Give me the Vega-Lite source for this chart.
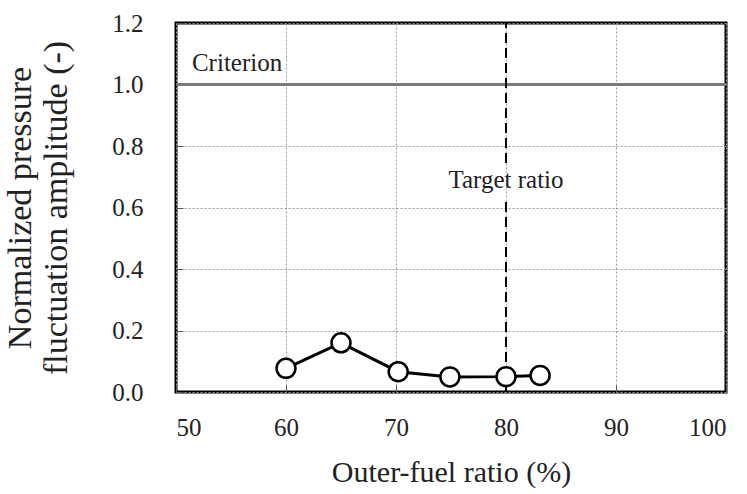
{
  "$schema": "https://vega.github.io/schema/vega-lite/v6.json",
  "width": 550,
  "height": 369,
  "autosize": {"type": "none"},
  "padding": {"left": 176, "top": 23, "right": 21, "bottom": 102},
  "background": "white",
  "config": {
    "font": "Liberation Serif",
    "view": {"stroke": "black", "strokeWidth": 3},
    "axis": {
      "labelFont": "Liberation Serif",
      "titleFont": "Liberation Serif",
      "labelColor": "#222",
      "titleColor": "#222",
      "titleFontWeight": "normal",
      "domain": false,
      "grid": true,
      "gridColor": "#9a9a9a",
      "gridDash": [2, 2],
      "gridWidth": 1,
      "ticks": true,
      "tickColor": "#555",
      "tickSize": -7,
      "tickWidth": 1
    }
  },
  "datasets": {
    "pts": [
      {"ratio": 60.0, "amp": 0.077},
      {"ratio": 65.0, "amp": 0.160},
      {"ratio": 70.2, "amp": 0.066},
      {"ratio": 74.9, "amp": 0.049},
      {"ratio": 80.0, "amp": 0.050},
      {"ratio": 83.1, "amp": 0.054}
    ],
    "target": [
      {"ratio": 80, "y1": 0.0, "y2": 0.63},
      {"ratio": 80, "y1": 0.745, "y2": 1.2}
    ],
    "crit": [
      {"ratio": 51.45, "amp": 1.07, "text": "Criterion"}
    ],
    "tgt": [
      {"ratio": 80, "amp": 0.69, "text": "Target ratio"}
    ]
  },
  "layer": [
    {
      "data": {"values": [{"amp": 1.0}]},
      "mark": {"type": "rule", "color": "#7a7a7a", "strokeWidth": 3},
      "encoding": {
        "y": {
          "field": "amp", "type": "quantitative",
          "scale": {"domain": [0, 1.2]},
          "axis": {
            "values": [0, 0.2, 0.4, 0.6, 0.8, 1.0, 1.2],
            "format": ".1f",
            "labelFontSize": 25,
            "labelPadding": 40,
            "title": ["Normalized pressure", "fluctuation amplitude (-)"],
            "titleFontSize": 34,
            "titlePadding": 38,
            "titleLineHeight": 36
          }
        }
      }
    },
    {
      "data": {"name": "target"},
      "mark": {"type": "rule", "color": "black", "strokeWidth": 2, "strokeDash": [10, 5]},
      "encoding": {
        "x": {"field": "ratio", "type": "quantitative", "scale": {"domain": [50, 100], "zero": false}},
        "y": {"field": "y1", "type": "quantitative", "scale": {"domain": [0, 1.2]}},
        "y2": {"field": "y2"}
      }
    },
    {
      "data": {"name": "crit"},
      "mark": {"type": "text", "fontSize": 25, "baseline": "middle", "align": "left", "color": "#222"},
      "encoding": {
        "x": {"field": "ratio", "type": "quantitative", "scale": {"domain": [50, 100], "zero": false}},
        "y": {"field": "amp", "type": "quantitative", "scale": {"domain": [0, 1.2]}},
        "text": {"field": "text"}
      }
    },
    {
      "data": {"name": "tgt"},
      "mark": {"type": "text", "fontSize": 25, "baseline": "middle", "align": "center", "color": "#222"},
      "encoding": {
        "x": {"field": "ratio", "type": "quantitative", "scale": {"domain": [50, 100], "zero": false}},
        "y": {"field": "amp", "type": "quantitative", "scale": {"domain": [0, 1.2]}},
        "text": {"field": "text"}
      }
    },
    {
      "data": {"name": "pts"},
      "mark": {"type": "line", "color": "black", "strokeWidth": 3},
      "encoding": {
        "x": {"field": "ratio", "type": "quantitative", "scale": {"domain": [50, 100], "zero": false}},
        "y": {"field": "amp", "type": "quantitative", "scale": {"domain": [0, 1.2]}}
      }
    },
    {
      "data": {"name": "pts"},
      "mark": {"type": "point", "shape": "circle", "filled": true, "fill": "white", "stroke": "black", "strokeWidth": 2.5, "size": 360, "opacity": 1},
      "encoding": {
        "x": {
          "field": "ratio", "type": "quantitative",
          "scale": {"domain": [50, 100], "zero": false},
          "axis": {
            "values": [50, 60, 70, 80, 90, 100],
            "labelFontSize": 25,
            "labelPadding": 30,
            "title": "Outer-fuel ratio (%)",
            "titleFontSize": 30,
            "titlePadding": 17
          }
        },
        "y": {"field": "amp", "type": "quantitative", "scale": {"domain": [0, 1.2]}}
      }
    }
  ]
}
